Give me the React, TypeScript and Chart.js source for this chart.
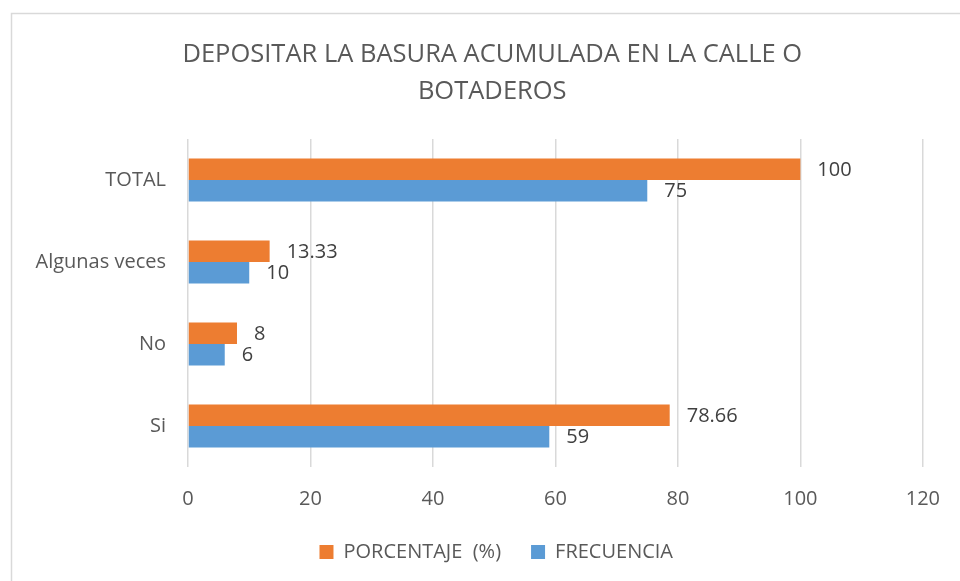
import React, { useEffect, useRef } from "react";
import { Chart, registerables } from "chart.js";

Chart.register(...registerables);

const categories = ["TOTAL", "Algunas veces", "No", "Si"];
const porcentaje = [100, 13.33, 8, 78.66];
const frecuencia = [75, 10, 6, 59];
const seriesNames = ["PORCENTAJE  (%)", "FRECUENCIA"];
const titleLines = ["DEPOSITAR LA BASURA ACUMULADA EN LA CALLE O", "BOTADEROS"];
const xTicks = { min: 0, max: 120, step: 20 };

const FONT = "'Open Sans', 'Noto Sans', sans-serif";
const ORANGE = "#ED7D31";
const BLUE = "#5B9BD5";
const TEXT = "#595959";
const GRID = "#D9D9D9";

const dataLabelPlugin = {
  id: "dataLabels",
  afterDatasetsDraw(chart: any) {
    const ctx = chart.ctx;
    ctx.save();
    ctx.font = `20px ${FONT}`;
    ctx.fillStyle = "#404040";
    ctx.textAlign = "left";
    ctx.textBaseline = "middle";
    chart.data.datasets.forEach((ds: any, di: number) => {
      const meta = chart.getDatasetMeta(di);
      meta.data.forEach((el: any, i: number) => {
        ctx.fillText(String(ds.data[i]), el.x + 17, el.y + 1);
      });
    });
    ctx.restore();
  },
};

const borderPlugin = {
  id: "outerBorder",
  afterLayout(chart: any) {
    // shift title and legend to match the original's centring
    if (chart.titleBlock) {
      chart.titleBlock.left += 24;
      chart.titleBlock.right += 24;
    }
    if (chart.legend) {
      chart.legend.left += 28;
      chart.legend.right += 28;
    }
  },
  beforeDraw(chart: any) {
    const ctx = chart.ctx;
    ctx.save();
    ctx.fillStyle = "#ffffff";
    ctx.fillRect(0, 0, chart.width, chart.height);
    ctx.strokeStyle = GRID;
    ctx.lineWidth = 1.5;
    ctx.beginPath();
    ctx.moveTo(11.5, chart.height + 5);
    ctx.lineTo(11.5, 13.5);
    ctx.lineTo(chart.width + 5, 13.5);
    ctx.stroke();
    ctx.restore();
  },
};

export default function App() {
  const ref = useRef<HTMLCanvasElement>(null);
  useEffect(() => {
    if (!ref.current) return;
    const chart = new Chart(ref.current, {
      type: "bar",
      data: {
        labels: categories,
        datasets: [
          {
            label: seriesNames[0],
            data: porcentaje,
            backgroundColor: ORANGE,
            categoryPercentage: 0.526,
            barPercentage: 1,
          },
          {
            label: seriesNames[1],
            data: frecuencia,
            backgroundColor: BLUE,
            categoryPercentage: 0.526,
            barPercentage: 1,
          },
        ],
      },
      options: {
        indexAxis: "y",
        animation: false,
        responsive: false,
        maintainAspectRatio: false,
        layout: { padding: { left: 12, right: 35.5, top: 0, bottom: 9 } },
        scales: {
          x: {
            min: xTicks.min,
            max: xTicks.max,
            ticks: {
              stepSize: xTicks.step,
              color: TEXT,
              font: { family: FONT, size: 20 },
              padding: 20,
            },
            grid: { color: GRID, lineWidth: 1.5, drawTicks: false },
            border: { display: false },
            afterFit(scale: any) {
              scale.height = 45;
            },
          },
          y: {
            ticks: {
              color: TEXT,
              font: { family: FONT, size: 20 },
              padding: 22,
            },
            grid: { display: false, drawTicks: false },
            border: { display: false },
            afterFit(scale: any) {
              scale.width = 176;
            },
          },
        },
        plugins: {
          title: {
            display: true,
            text: titleLines,
            color: TEXT,
            font: { family: FONT, size: 25.5, weight: "normal", lineHeight: 1.45 },
            padding: { top: 36, bottom: 29 },
          },
          legend: {
            position: "bottom",
            labels: {
              color: TEXT,
              font: { family: FONT, size: 20 },
              boxWidth: 14,
              boxHeight: 14,
              padding: 30,
            },
          },
          tooltip: { enabled: false },
        },
      },
      plugins: [borderPlugin, dataLabelPlugin],
    });
    return () => chart.destroy();
  }, []);
  return (
    <div style={{ position: "fixed", left: 0, top: 0, width: 960, height: 581, background: "#fff" }}>
      <canvas ref={ref} width={960} height={581} style={{ width: 960, height: 581, display: "block" }} />
    </div>
  );
}
